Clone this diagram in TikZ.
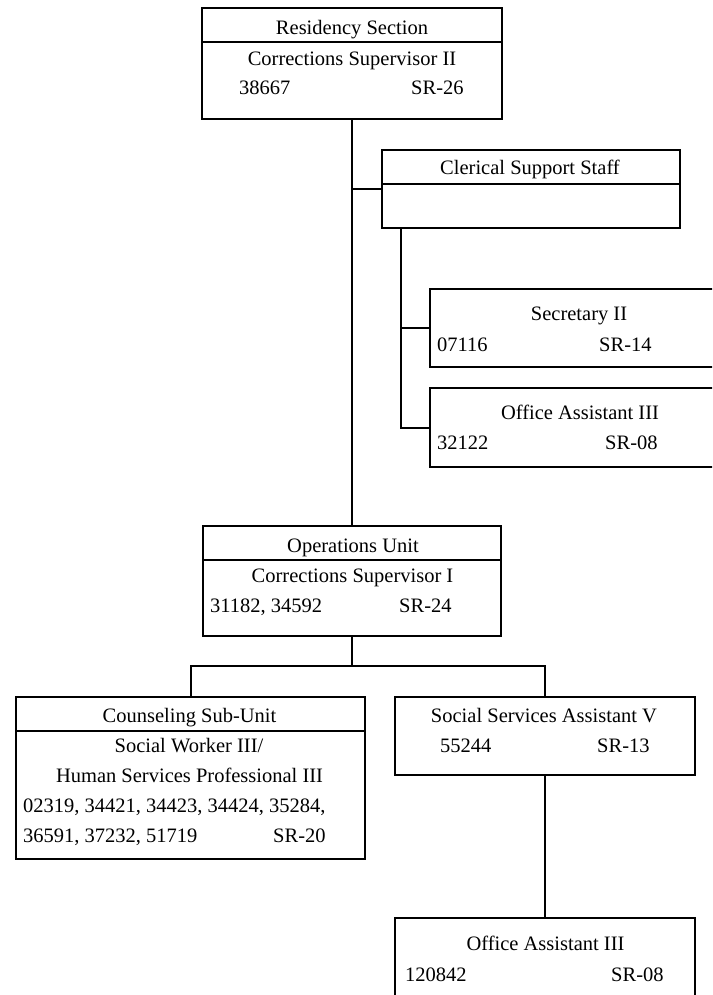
\documentclass[tikz,border=0pt]{standalone}
\usepackage{fontspec}
\setmainfont{Liberation Serif}
\begin{document}
\begin{tikzpicture}[x=1pt,y=-1pt,
  box/.style={draw, line width=2pt, inner sep=0pt, outer sep=0pt, anchor=north west},
  conn/.style={line width=2pt},
  divl/.style={line width=2pt},
  txt/.style={inner sep=0pt, anchor=base, font=\fontsize{20.5}{24}\selectfont},
  ltxt/.style={txt, anchor=base west}]
\useasboundingbox (0,0) rectangle (712,995);
\clip (0,0) rectangle (712,995);
% boxes
\node[box, minimum width=300pt, minimum height=111pt] (top) at (202,8) {};
\node[box, minimum width=298pt, minimum height=78pt] (cler) at (382,150) {};
\node[box, minimum width=300pt, minimum height=78pt] (sec) at (430,289) {};
\node[box, minimum width=300pt, minimum height=79pt] (oa1) at (430,388) {};
\node[box, minimum width=298pt, minimum height=110pt] (ops) at (203,526) {};
\node[box, minimum width=349pt, minimum height=162pt] (couns) at (16,697) {};
\node[box, minimum width=300pt, minimum height=78pt] (ssa) at (395,697) {};
\node[box, minimum width=300pt, minimum height=100pt] (bot) at (395,918) {};
% dividers
\draw[divl] (top.west |- 0,42) -- (top.east |- 0,42);
\draw[divl] (cler.west |- 0,184) -- (cler.east |- 0,184);
\draw[divl] (ops.west |- 0,560) -- (ops.east |- 0,560);
\draw[divl] (couns.west |- 0,731) -- (couns.east |- 0,731);
% texts
\node[txt] (t1) at (352,35) {Residency Section};
\node[txt] (t2) at (352,66) {Corrections Supervisor II};
\node[ltxt] (t3) at (239,95) {38667};
\node[ltxt] (t4) at (411,95) {SR-26};
\node[txt] (c1) at (530,175) {Clerical Support Staff};
\node[txt] (s1) at (579,320) {Secretary II};
\node[ltxt] (s2) at (437,351) {07116};
\node[ltxt] (s3) at (599,351) {SR-14};
\node[txt] (o1) at (580,419) {Office Assistant III};
\node[ltxt] (o2) at (437,449) {32122};
\node[ltxt] (o3) at (605,449) {SR-08};
\node[txt] (p1) at (353,552) {Operations Unit};
\node[txt] (p2) at (352.5,582) {Corrections Supervisor I};
\node[ltxt] (p3) at (210,612) {31182, 34592};
\node[ltxt] (p4) at (399,612) {SR-24};
\node[txt] (k1) at (189.5,722) {Counseling Sub-Unit};
\node[txt] (k2) at (189,752) {Social Worker III/};
\node[txt] (k3) at (189.5,782) {Human Services Professional III};
\node[ltxt] (k4) at (23,812) {02319, 34421, 34423, 34424, 35284,};
\node[ltxt] (k5) at (23,842) {36591, 37232, 51719};
\node[ltxt] (k6) at (273,842) {SR-20};
\node[txt] (a1) at (544,722) {Social Services Assistant V};
\node[ltxt] (a2) at (440,752) {55244};
\node[ltxt] (a3) at (597,752) {SR-13};
\node[txt] (b1) at (545.5,950) {Office Assistant III};
\node[ltxt] (b2) at (405,981) {120842};
\node[ltxt] (b3) at (611,981) {SR-08};
% connectors
\draw[conn] (top.south) -- (ops.north);
\draw[conn] (top.south |- cler.west) -- (cler.west);
\coordinate (cv) at ([xshift=19pt]cler.south west);
\draw[conn] (cv) |- (sec.west);
\draw[conn] (cv) |- (oa1.west);
\coordinate (split) at ([yshift=-30pt]ops.south);
\draw[conn] (ops.south) -- (split);
\draw[conn] (split) -| (couns.north);
\draw[conn] (split) -| (ssa.north);
\draw[conn] (ssa.south) -- (bot.north);
\end{tikzpicture}
\end{document}
